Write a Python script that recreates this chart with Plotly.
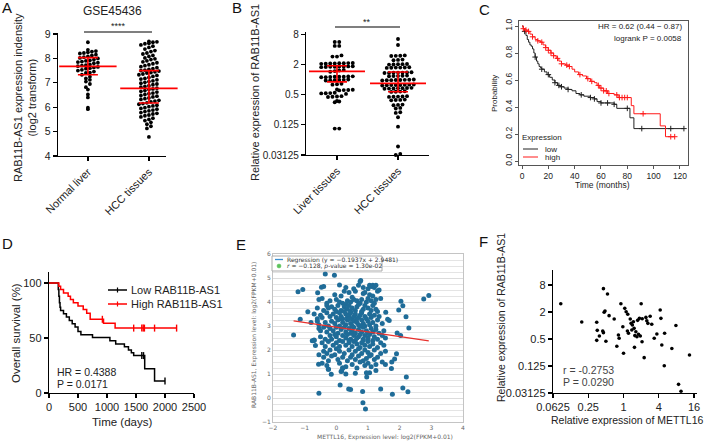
import math
import plotly.graph_objects as go

W, H = 708, 443
FONT = "Arial, Liberation Sans, sans-serif"

# ---------------- DATA ----------------
# Panel A (GSE45436, log2 intensity)
a_categories = ["Normal liver", "HCC tissues"]
a_normal = [8.66, 8.35, 8.3, 8.28, 8.25, 8.22, 8.2, 8.15, 8.12, 8.08, 8.05, 8.02, 8.0,
            7.95, 7.92, 7.9, 7.87, 7.85, 7.82, 7.8, 7.75, 7.72, 7.7, 7.68, 7.65, 7.63, 7.6,
            7.58, 7.53, 7.5, 7.46, 7.42, 7.4, 7.33, 7.25, 7.18, 7.12, 7.05, 6.95, 6.82, 6.72,
            6.52, 6.4, 5.98, 5.92]
a_hcc = [8.7, 8.68, 8.66, 8.62, 8.6, 8.55, 8.5, 8.45, 8.38, 8.32, 8.28, 8.22, 8.18, 8.12,
         8.08, 8.02, 7.98, 7.95, 7.9, 7.86, 7.82, 7.78, 7.74, 7.7, 7.66, 7.62, 7.58, 7.55,
         7.52, 7.5, 7.48, 7.45, 7.42, 7.4, 7.36, 7.33, 7.3, 7.26, 7.22, 7.18, 7.15, 7.12,
         7.08, 7.05, 7.02, 6.98, 6.95, 6.92, 6.88, 6.85, 6.82, 6.78, 6.75, 6.72, 6.68, 6.65,
         6.62, 6.58, 6.55, 6.52, 6.48, 6.45, 6.42, 6.38, 6.35, 6.32, 6.28, 6.25, 6.22, 6.18,
         6.15, 6.12, 6.08, 6.05, 6.02, 5.98, 5.95, 5.92, 5.88, 5.85, 5.82, 5.78, 5.75, 5.72,
         5.68, 5.65, 5.6, 5.55, 5.5, 5.45, 5.38, 5.3, 5.22, 5.13, 4.78]
a_mean = [7.67, 6.77]
a_sd_low = [7.33, 6.17]
a_sd_high = [8.03, 7.50]
a_yticks = [4, 5, 6, 7, 8, 9]

# Panel B (relative expression, stored as log2 values)
b_categories = ["Liver tissues", "HCC tissues"]
b_liver_log2 = [2.49, 2.49, 2.23, 2.23, 1.6, 1.52, 1.52,
                1.1, 1.09, 1.08, 1.08, 1.07, 1.06, 1.05, 1.04,
                0.88, 0.87, 0.86, 0.86, 0.85, 0.84, 0.83, 0.82,
                0.64, 0.6, 0.56, 0.52,
                0.21, 0.2, 0.19, 0.19, 0.18, 0.17, 0.16, 0.15,
                0.0, -0.02, -0.03, -0.04, -0.05, -0.06,
                -0.28, -0.31, -0.34,
                -0.66, -0.68, -0.69, -0.7, -0.72,
                -0.88, -0.9, -0.91, -0.92, -0.95,
                -1.1, -1.12, -1.14, -1.16,
                -1.42, -1.46, -1.5,
                -3.25, -3.25]
b_hcc_log2 = [2.69, 2.29,
              1.6, 1.58, 1.57, 1.56,
              1.32, 1.3, 1.28,
              1.03, 1.02, 1.01, 1.0, 0.99,
              0.81, 0.8, 0.79, 0.79, 0.78, 0.77,
              0.48, 0.47, 0.46, 0.46, 0.45, 0.44, 0.43,
              0.26, 0.25, 0.24, 0.23, 0.22,
              0.0, -0.01, -0.02, -0.03, -0.03, -0.04, -0.05, -0.06,
              -0.33, -0.34, -0.35, -0.36, -0.36, -0.37, -0.38, -0.39,
              -0.55, -0.56, -0.57, -0.58, -0.59, -0.6, -0.61,
              -0.78, -0.8, -0.81, -0.82,
              -1.1, -1.12, -1.13, -1.14, -1.15,
              -1.33, -1.35, -1.36, -1.38,
              -1.66, -1.68, -1.7,
              -1.88, -1.92,
              -2.17, -2.21,
              -2.5, -3.12, -4.44, -4.93, -5.0]
b_mean = [1.46, 0.84]
b_sd_low = [0.90, 0.57]
b_sd_high = [1.89, 1.41]
b_yticks = [0.03125, 0.125, 0.5, 2, 8]
b_yticklabels = ["0.03125", "0.125", "0.5", "2", "8"]

# Panel C (KM, months)
c_low_t = [0, 1, 2, 3, 4, 5, 6, 7, 8, 9, 10, 11, 12, 13, 14, 15, 17, 19, 21, 23, 25, 27, 29,
           32, 35, 38, 41, 44, 47, 52, 55, 57, 60, 70, 72, 82, 85, 123]
c_low_s = [1.0, 0.98, 0.96, 0.93, 0.9, 0.88, 0.86, 0.85, 0.83, 0.8, 0.77, 0.74, 0.72, 0.7,
           0.69, 0.68, 0.66, 0.64, 0.62, 0.6, 0.58, 0.56, 0.55, 0.54, 0.53, 0.52, 0.5, 0.49,
           0.48, 0.47, 0.46, 0.44, 0.43, 0.42, 0.39, 0.32, 0.24, 0.24]
c_high_t = [0, 1, 2, 4, 6, 8, 10, 12, 14, 16, 18, 20, 22, 24, 26, 28, 30, 33, 36, 38, 40, 43,
            46, 49, 52, 55, 57, 59, 62, 65, 70, 73, 83, 85, 105, 109, 116]
c_high_s = [1.0, 0.98, 0.97, 0.96, 0.94, 0.92, 0.9, 0.89, 0.88, 0.86, 0.84, 0.82, 0.8, 0.78,
            0.76, 0.74, 0.72, 0.71, 0.7, 0.68, 0.66, 0.64, 0.63, 0.61, 0.59, 0.58, 0.56, 0.54,
            0.52, 0.5, 0.49, 0.47, 0.41, 0.35, 0.26, 0.18, 0.18]
c_low_censor = [2, 10, 15, 20, 25, 28, 30, 35, 45, 52, 55, 60, 65, 70, 80, 91, 113, 123]
c_high_censor = [1, 3, 5, 8, 12, 15, 18, 20, 22, 24, 27, 30, 34, 36, 44, 50, 53, 58, 60, 62,
                 64, 66, 72, 74, 76, 78, 80, 92, 113, 116]
c_xticks = [0, 20, 40, 60, 80, 100, 120]
c_yticks = [0.0, 0.2, 0.4, 0.6, 0.8, 1.0]

# Panel D (KM, days, %)
d_low_t = [0, 160, 170, 180, 190, 200, 250, 300, 350, 400, 450, 500, 550, 750, 1050, 1150,
           1300, 1370, 1420, 1460, 1650, 1820, 2000]
d_low_s = [100, 94, 88, 82, 78, 75, 72, 69, 66, 63, 60, 56, 53, 50.5, 47.5, 44.5, 42, 39,
           36.5, 34, 22, 11, 11]
d_high_t = [0, 170, 200, 250, 330, 370, 420, 500, 590, 650, 710, 940, 1140, 2200]
d_high_s = [100, 97, 94, 91, 88, 85, 82, 79, 76, 72.5, 67, 63.5, 59, 59]
d_low_censor = [1600, 1630, 2000]
d_high_censor = [920, 1460, 1600, 1625, 1645, 1820, 2200]
d_xticks = [0, 500, 1000, 1500, 2000, 2500]
d_yticks = [0, 50, 100]

# Panel E (METTL16 vs RAB11B-AS1, log2(FPKM+0.01))
e_points = [
    (-1.35, 2.63), (-1.21, 4.43), (-1.06, 4.52), (-1.14, 3.28), (-0.9, 3.59), (-0.76, 2.39),
    (-0.7, 2.42), (-0.66, 2.19), (-0.56, 1.41), (-0.55, 0.2), (-0.47, 4.61), (-0.35, 5.17),
    (-0.06, 5.11), (0.1, 4.71), (0.77, 4.9), (-0.59, 4.39), (-0.55, 4.1), (2.76, 4.13),
    (2.92, 4.27), (2.04, 4.03), (2.1, 3.84), (1.97, 3.67), (2.2, 3.39), (2.29, 2.92),
    (1.92, 2.71), (2.03, 2.6), (1.56, 3.57), (1.62, 3.28), (1.67, 3.23), (1.9, 1.84),
    (1.84, 1.62), (1.75, 1.5), (1.74, 1.23), (1.77, 0.16), (2.1, 0.42), (2.21, 0.87),
    (2.26, 0.26), (0.12, 0.54), (0.39, 0.38), (0.45, 0.35), (0.83, 0.27), (0.84, -0.2),
    (0.92, -0.46), (1.4, 0.37), (0.96, 0.87), (1.05, 1.05), (0.17, 1.13), (-0.16, 0.99),
    (-0.25, 1.2), (0.2, 1.25), (0.6, 1.03),
    (-0.4, 4.65), (0.3, 4.6), (0.55, 4.55), (0.7, 4.7), (0.85, 4.6), (1.0, 4.55), (1.05, 4.7),
    (1.1, 4.65), (1.15, 4.7), (1.2, 4.6), (1.25, 4.7), (0.75, 4.85),
    (-0.05, 4.3), (0.25, 4.45), (0.4, 4.4), (0.6, 4.45), (0.85, 4.35), (0.9, 4.4), (1.05, 4.3),
    (1.3, 4.45), (1.35, 4.5), (0.5, 4.2), (0.15, 4.25), (1.15, 4.25),
    (-0.45, 4.15), (-0.2, 4.05), (0.0, 4.1), (0.1, 4.0), (0.2, 3.95), (0.35, 4.05), (0.45, 4.0),
    (0.55, 4.1), (0.65, 4.05), (0.75, 3.95), (0.8, 4.1), (0.95, 4.0), (1.0, 4.15), (1.1, 4.05),
    (1.2, 3.95), (1.25, 4.1), (1.4, 4.15), (0.3, 3.9), (-0.3, 3.95),
    (-0.3, 3.85), (-0.25, 3.75), (-0.15, 3.8), (-0.05, 3.7), (0.05, 3.85), (0.15, 3.65),
    (0.25, 3.8), (0.35, 3.7), (0.4, 3.85), (0.5, 3.75), (0.6, 3.65), (0.65, 3.8), (0.7, 3.9),
    (0.85, 3.7), (0.9, 3.85), (1.0, 3.75), (1.1, 3.65), (1.15, 3.85), (1.25, 3.7), (1.3, 3.6),
    (-0.6, 3.75), (-0.4, 3.65), (0.0, 3.6), (0.45, 3.6), (0.8, 3.6),
    (-0.7, 3.5), (-0.5, 3.45), (-0.45, 3.35), (-0.3, 3.55), (-0.2, 3.4), (-0.1, 3.5), (0.0, 3.35),
    (0.1, 3.55), (0.15, 3.4), (0.2, 3.3), (0.3, 3.5), (0.35, 3.35), (0.4, 3.45), (0.45, 3.55),
    (0.5, 3.3), (0.55, 3.4), (0.6, 3.5), (0.7, 3.35), (0.75, 3.45), (0.8, 3.55), (0.9, 3.4),
    (0.95, 3.3), (1.05, 3.5), (1.1, 3.35), (1.2, 3.45), (1.35, 3.4), (-0.6, 3.3), (0.25, 3.6),
    (0.65, 3.3),
    (-0.8, 3.15), (-0.6, 3.2), (-0.55, 3.05), (-0.35, 3.15), (-0.25, 3.0), (-0.15, 3.2),
    (-0.05, 3.1), (0.05, 3.25), (0.1, 3.0), (0.2, 3.15), (0.3, 3.05), (0.35, 3.25), (0.45, 3.1),
    (0.5, 3.0), (0.55, 3.2), (0.65, 3.15), (0.7, 3.05), (0.8, 3.25), (0.85, 3.1), (0.9, 3.0),
    (1.0, 3.2), (1.05, 3.05), (1.15, 3.15), (1.25, 3.0), (1.3, 3.25), (1.45, 3.1), (0.4, 3.3),
    (0.15, 3.3),
    (-0.55, 2.9), (-0.5, 2.8), (-0.4, 2.95), (-0.3, 2.75), (-0.2, 2.9), (-0.1, 2.8), (0.0, 2.95),
    (0.05, 2.7), (0.15, 2.85), (0.25, 2.95), (0.3, 2.75), (0.4, 2.9), (0.5, 2.8), (0.55, 2.95),
    (0.6, 2.7), (0.7, 2.85), (0.8, 2.75), (0.85, 2.95), (0.95, 2.8), (1.0, 2.7), (1.1, 2.9),
    (1.15, 2.75), (1.25, 2.85), (1.35, 2.7), (1.5, 2.8), (0.45, 2.7), (0.75, 3.0),
    (-0.7, 2.4), (-0.5, 2.55), (-0.35, 2.45), (-0.2, 2.6), (-0.15, 2.45), (0.0, 2.55), (0.1, 2.4),
    (0.2, 2.6), (0.3, 2.5), (0.35, 2.65), (0.45, 2.45), (0.55, 2.6), (0.6, 2.4), (0.7, 2.55),
    (0.75, 2.65), (0.85, 2.45), (0.9, 2.6), (1.0, 2.5), (1.05, 2.65), (1.15, 2.4), (1.2, 2.55),
    (1.3, 2.45), (1.45, 2.6), (1.55, 2.5), (0.4, 2.4), (0.65, 2.5), (-0.05, 2.65),
    (-0.45, 2.3), (-0.35, 2.15), (-0.25, 2.35), (-0.1, 2.2), (0.0, 2.3), (0.1, 2.15), (0.2, 2.35),
    (0.3, 2.2), (0.4, 2.3), (0.5, 2.15), (0.55, 2.35), (0.65, 2.25), (0.75, 2.1), (0.8, 2.3),
    (0.9, 2.2), (1.0, 2.35), (1.05, 2.15), (1.15, 2.25), (1.3, 2.1), (1.4, 2.3), (1.5, 2.2),
    (0.85, 2.4),
    (-0.55, 1.8), (-0.4, 1.95), (-0.3, 1.85), (-0.2, 2.0), (-0.05, 1.8), (0.1, 1.95), (0.25, 1.85),
    (0.4, 2.0), (0.5, 1.8), (0.6, 1.95), (0.7, 2.05), (0.8, 1.85), (0.9, 2.0), (1.0, 1.9),
    (1.1, 1.8), (1.2, 2.0), (1.4, 1.85), (1.55, 1.95), (0.0, 2.05),
    (-0.4, 1.7), (-0.25, 1.55), (-0.15, 1.75), (0.05, 1.6), (0.2, 1.7), (0.35, 1.55), (0.45, 1.7),
    (0.6, 1.6), (0.7, 1.75), (0.85, 1.55), (0.95, 1.65), (1.05, 1.75), (1.2, 1.6), (1.3, 1.7),
    (1.45, 1.5), (0.75, 1.5),
    (-0.45, 1.45), (-0.3, 1.35), (0.1, 1.45), (0.3, 1.3), (0.5, 1.4), (0.65, 1.25), (0.9, 1.35),
    (1.0, 1.45), (1.1, 1.3), (1.25, 1.4), (1.55, 1.4), (-0.25, 1.2), (0.2, 1.25),
    (0.15, 1.1), (0.3, 1.0), (0.95, 1.05), (1.25, 1.15),
]
e_x = [p[0] for p in e_points]
e_y = [p[1] for p in e_points]
e_slope, e_intercept = -0.1937, 2.9481
e_fit_x = [-1.35, 2.92]
e_xticks = [-2, -1, 0, 1, 2, 3, 4]
e_yticks = [-1, 0, 1, 2, 3, 4, 5, 6]

# Panel F (log2 values of METTL16, RAB11B-AS1)
f_log2_x = [-3.56, -2.37, -1.52, -1.49, -1.52, -1.37, -1.18, -1.14, -1.14, -0.91, -1.05, -1.1,
            -0.82, -1.0, -0.53, -0.38, -0.29, -0.25, -0.15, -0.04, 0.0, 0.07, 0.15, 0.24, 0.22,
            0.28, 0.38, 0.43, 0.47, 0.5, 0.56, 0.6, 0.64, 0.62, 0.7, 0.76, 0.8, 0.85, 0.95, 0.9,
            1.0, 1.05, 1.06, 1.17, 1.27, 1.32, 1.38, 1.51, 1.6, 1.74, 1.89, 2.08, 2.12, 2.17,
            2.33, 2.31, 2.74, 2.97, 3.12, 3.26, 3.74]
f_log2_y = [1.61, 0.26, 0.24, -0.36, -1.1, -0.78, -0.41, -0.53, 2.73, 2.33, 1.07, 0.98, 0.73,
            -1.17, 0.48, -1.54, -0.7, -0.95, 1.61, -0.09, -2.06, 1.27, 1.02, 0.83, -0.41, -0.58,
            0.48, 0.16, -0.33, 0.04, 0.28, -0.21, -0.75, -1.62, -0.46, -0.83, 0.38, -0.65, -0.78,
            0.53, 1.61, -1.2, 0.5, -2.38, 0.6, 0.35, 0.16, 0.68, 0.09, -0.95, -0.63, 1.15, 0.53,
            -1.45, -0.58, -2.98, -1.7, 0.0, -4.36, -4.87, -2.19]
f_ticks = [0.03125, 0.125, 0.5, 2, 8]
f_ticklabels = ["0.03125", "0.125", "0.5", "2", "8"]
f_xticks = [0.0625, 0.25, 1, 4, 16]
f_xticklabels = ["0.0625", "0.25", "1", "4", "16"]


# ---------------- helpers ----------------
def fx(px):
    return px / W


def fy(py):
    return 1 - py / H


def row_swarm(ypx, rowh, sp):
    """Prism-like column scatter: bin into pixel rows, spread each row around the centre."""
    rows = {}
    for i, y in enumerate(ypx):
        rows.setdefault(int(round(y / rowh)), []).append(i)
    offs = [0.0] * len(ypx)
    for idx in rows.values():
        idx.sort(key=lambda i: ypx[i])
        n = len(idx)
        for j, i in enumerate(idx):
            offs[i] = (j - (n - 1) / 2.0) * sp
    return offs


def step_at(ts, ss, t):
    s = ss[0]
    for ti, si in zip(ts, ss):
        if ti <= t:
            s = si
    return s


fig = go.Figure()

# ---------------- Panel A ----------------
A_XPX, A_YPX = 61.0, 24.4
for k, vals in enumerate([a_normal, a_hcc]):
    offs = row_swarm([v * A_YPX for v in vals], 4.2, 4.0)
    fig.add_trace(go.Scatter(x=[k + o / A_XPX for o in offs], y=vals, mode="markers",
                             marker=dict(size=3.8, color="black"), cliponaxis=False,
                             xaxis="x", yaxis="y", showlegend=False))
fig.add_trace(go.Scatter(
    x=[0, 1], y=a_mean, mode="markers", xaxis="x", yaxis="y", showlegend=False, cliponaxis=False,
    marker=dict(symbol="line-ew", size=41, color="red", line=dict(width=1.8, color="red")),
    error_y=dict(type="data", symmetric=False, array=[h - m for h, m in zip(a_sd_high, a_mean)],
                 arrayminus=[m - l for m, l in zip(a_mean, a_sd_low)], color="red",
                 thickness=1.6, width=10)))

# ---------------- Panel B ----------------
B_XPX, B_YPX = 61.0, 15.1
for k, vals in enumerate([b_liver_log2, b_hcc_log2]):
    offs = row_swarm([v * B_YPX for v in vals], 4.0, 4.5)
    fig.add_trace(go.Scatter(x=[k + o / B_XPX for o in offs], y=[2 ** v for v in vals],
                             mode="markers", marker=dict(size=3.9, color="black"),
                             cliponaxis=False, xaxis="x2", yaxis="y2", showlegend=False))
fig.add_trace(go.Scatter(
    x=[0, 1], y=b_mean, mode="markers", xaxis="x2", yaxis="y2", showlegend=False, cliponaxis=False,
    marker=dict(symbol="line-ew", size=40, color="red", line=dict(width=1.8, color="red")),
    error_y=dict(type="data", symmetric=False, array=[h - m for h, m in zip(b_sd_high, b_mean)],
                 arrayminus=[m - l for m, l in zip(b_mean, b_sd_low)], color="red",
                 thickness=1.6, width=10)))

# ---------------- Panel C ----------------
for ts, ss, cens, col in [(c_low_t, c_low_s, c_low_censor, "#222222"),
                          (c_high_t, c_high_s, c_high_censor, "#ff1a1a")]:
    fig.add_trace(go.Scatter(x=ts, y=ss, mode="lines", line=dict(color=col, width=1, shape="hv"),
                             xaxis="x3", yaxis="y3", showlegend=False))
    fig.add_trace(go.Scatter(x=cens, y=[step_at(ts, ss, t) for t in cens], mode="markers",
                             marker=dict(symbol="cross-thin", size=4, line=dict(width=1, color=col)),
                             xaxis="x3", yaxis="y3", showlegend=False))

# ---------------- Panel D ----------------
for ts, ss, cens, col in [(d_low_t, d_low_s, d_low_censor, "black"),
                          (d_high_t, d_high_s, d_high_censor, "#ff0000")]:
    fig.add_trace(go.Scatter(x=ts, y=ss, mode="lines", line=dict(color=col, width=1.5, shape="hv"),
                             xaxis="x4", yaxis="y4", showlegend=False))
    fig.add_trace(go.Scatter(x=cens, y=[step_at(ts, ss, t) for t in cens], mode="markers",
                             marker=dict(symbol="line-ns", size=5, line=dict(width=1.4, color=col)),
                             xaxis="x4", yaxis="y4", showlegend=False))

# ---------------- Panel E ----------------
fig.add_trace(go.Scatter(x=e_x, y=e_y, mode="markers", marker=dict(size=5, color="#1f6c98"),
                         xaxis="x5", yaxis="y5", showlegend=False))
fig.add_trace(go.Scatter(x=e_fit_x, y=[e_slope * v + e_intercept for v in e_fit_x], mode="lines",
                         line=dict(color="#e8302c", width=1.3), xaxis="x5", yaxis="y5",
                         showlegend=False))

# ---------------- Panel F ----------------
fig.add_trace(go.Scatter(x=[2 ** v for v in f_log2_x], y=[2 ** v for v in f_log2_y], mode="markers",
                         marker=dict(size=3.6, color="black"), cliponaxis=False,
                         xaxis="x6", yaxis="y6", showlegend=False))

# ---------------- axes ----------------
prism = dict(showline=True, linecolor="black", linewidth=1.2, ticks="outside", ticklen=4,
             tickwidth=1.2, tickcolor="black", showgrid=False, zeroline=False, automargin=False,
             tickfont=dict(family=FONT, size=10.5, color="#222"))
plain = dict(automargin=False, zeroline=False, showgrid=False)

layout_axes = dict(
    xaxis=dict(prism, domain=[fx(58), fx(166)], range=[-0.49, 1.28], anchor="y",
               tickvals=[0, 1], ticktext=a_categories, tickangle=-45,
               tickfont=dict(family=FONT, size=11, color="#222")),
    yaxis=dict(prism, domain=[fy(156), fy(33)], range=[4, 9.04], anchor="x", tickvals=a_yticks),
    xaxis2=dict(prism, domain=[fx(306), fx(429)], range=[-0.508, 1.508], anchor="y2",
                tickvals=[0, 1], ticktext=b_categories, tickangle=-45,
                tickfont=dict(family=FONT, size=11, color="#222")),
    yaxis2=dict(prism, domain=[fy(155), fy(32)], type="log", anchor="x2",
                range=[math.log10(2 ** -5), math.log10(2 ** 3.15)],
                tickvals=b_yticks, ticktext=b_yticklabels,
                tickfont=dict(family=FONT, size=10, color="#222")),
    xaxis3=dict(plain, domain=[fx(519), fx(688)], range=[-2.28, 126.1], anchor="y3",
                showline=True, mirror=True, linecolor="#555", linewidth=1, ticks="outside",
                ticklen=3, tickcolor="#555", tickvals=c_xticks,
                tickfont=dict(family=FONT, size=8.5, color="#222")),
    yaxis3=dict(plain, domain=[fy(165), fy(21)], range=[-0.0296, 1.037], anchor="x3",
                showline=True, mirror=True, linecolor="#555", linewidth=1, ticks="outside",
                ticklen=3, tickcolor="#555", tickvals=c_yticks,
                ticktext=["%.1f" % v for v in c_yticks], tickangle=-90,
                tickfont=dict(family=FONT, size=8.5, color="#222")),
    xaxis4=dict(prism, domain=[fx(49), fx(194)], range=[0, 2500], anchor="y4", tickvals=d_xticks,
                tickfont=dict(family=FONT, size=11, color="#222")),
    yaxis4=dict(prism, domain=[fy(393), fy(272)], range=[0, 110], anchor="x4", tickvals=d_yticks,
                tickfont=dict(family=FONT, size=11, color="#222")),
    xaxis5=dict(plain, domain=[fx(273), fx(463)], range=[-2, 4], anchor="y5", showline=True,
                mirror=True, linecolor="#c4c4c4", linewidth=1, tickvals=e_xticks, ticks="",
                tickfont=dict(family="DejaVu Sans", size=6, color="#666")),
    yaxis5=dict(domain=[fy(422), fy(254)], range=[-1, 6], anchor="x5", showline=True, mirror=True,
                linecolor="#c4c4c4", linewidth=1, tickvals=e_yticks, showgrid=True,
                gridcolor="#dcdcdc", gridwidth=1, zeroline=False, ticks="", automargin=False,
                minor=dict(dtick=0.25, showgrid=True, gridcolor="#e4e4e4", gridwidth=1),
                tickfont=dict(family="DejaVu Sans", size=6, color="#666")),
    xaxis6=dict(prism, domain=[fx(553), fx(697)], type="log", anchor="y6",
                range=[math.log10(0.0625), math.log10(16) + 0.05],
                tickvals=f_xticks, ticktext=f_xticklabels,
                tickfont=dict(family=FONT, size=11, color="#222")),
    yaxis6=dict(prism, domain=[fy(393), fy(270)], type="log", anchor="x6",
                range=[math.log10(2 ** -5), math.log10(2 ** 4.11)],
                tickvals=f_ticks, ticktext=f_ticklabels,
                tickfont=dict(family=FONT, size=11, color="#222")),
)

# ---------------- annotations / decorations ----------------
ann = []
shapes = []


def text(t, x, y, size=11, xanchor="center", yanchor="middle", angle=0, color="#222",
         family=FONT):
    ann.append(dict(text=t, x=fx(x), y=fy(y), xref="paper", yref="paper", showarrow=False,
                    xanchor=xanchor, yanchor=yanchor, textangle=angle,
                    font=dict(family=family, size=size, color=color)))


def line(x0, y0, x1, y1, color="black", width=1.2):
    shapes.append(dict(type="line", xref="paper", yref="paper", x0=fx(x0), y0=fy(y0),
                       x1=fx(x1), y1=fy(y1), line=dict(color=color, width=width)))


# panel letters
for L, x, y in [("A", 0, 8), ("B", 230, 8), ("C", 477, 9), ("D", 0, 243), ("E", 234, 244),
                ("F", 477, 241)]:
    text(L, x, y, size=15, xanchor="left", color="#111")

# A
text("GSE45436", 112, 11, size=12)
line(84, 32, 152, 32)
text("****", 118, 26, size=9)
text("RAB11B-AS1 expression indensity<br>(log2 transform)", 25, 98, size=11, angle=-90)
# B
line(335, 27, 400, 27)
text("**", 367, 22, size=9)
text("Relative expression of RAB11B-AS1", 255, 93, size=11, angle=-90)
# C
text("HR = 0.62 (0.44 \u2212 0.87)", 684, 27, size=8, xanchor="right")
text("logrank P = 0.0058", 684, 38, size=8, xanchor="right")
text("Probability", 494, 93, size=8, angle=-90)
text("Time (months)", 602, 185, size=8.5)
text("Expression", 520, 137, size=8, xanchor="left")
line(523, 149, 538, 149, color="#222", width=1)
text("low", 543, 149, size=8, xanchor="left")
line(523, 157, 538, 157, color="#ff1a1a", width=1)
text("high", 543, 157, size=8, xanchor="left")
# D
text("Overall survival (%)", 16, 333, size=11.5, angle=-90)
text("Time (days)", 122, 422, size=11.5)
line(108, 290, 127, 290, color="black", width=1.5)
line(117.5, 287.5, 117.5, 292.5, color="black", width=1.2)
text("Low RAB11B-AS1", 129, 290, size=11, xanchor="left")
line(108, 304, 127, 304, color="#ff0000", width=1.5)
line(117.5, 301.5, 117.5, 306.5, color="#ff0000", width=1.2)
text("High RAB11B-AS1", 129, 304, size=11, xanchor="left")
text("HR = 0.4388", 55, 372, size=10.5, xanchor="left")
text("P = 0.0171", 55, 384, size=10.5, xanchor="left")
# E
shapes.append(dict(type="rect", xref="paper", yref="paper", x0=fx(272), y0=fy(271), x1=fx(382),
                   y1=fy(256), line=dict(color="#aaaaaa", width=1), fillcolor="white"))
line(275, 259.5, 283, 259.5, color="#3a8fd0", width=1.3)
shapes.append(dict(type="circle", xref="paper", yref="paper", x0=fx(277), y0=fy(268),
                   x1=fx(281), y1=fy(264), line=dict(color="#5cc35c", width=0.5),
                   fillcolor="#5cc35c"))
text("Regression (y = \u22120.1937x + 2.9481)", 285, 259.5, size=6, xanchor="left",
     family="DejaVu Sans", color="#333")
text("<i>r</i> = \u22120.128, <i>p</i>-value = 1.30e-02", 285, 266, size=6, xanchor="left",
     family="DejaVu Sans", color="#333")
text("METTL16, Expression level: log2(FPKM+0.01)", 385, 436.5, size=6, family="DejaVu Sans",
     color="#666")
text("RAB11B-AS1, Expression level: log2(FPKM+0.01)", 254, 335, size=6, angle=-90,
     family="DejaVu Sans", color="#666")
# F
text("r = -0.2753", 561, 370, size=10.5, xanchor="left", color="#444")
text("P = 0.0290", 561, 382, size=10.5, xanchor="left", color="#444")
text("Relative expression of METTL16", 627, 420, size=10.5)
text("Relative expression of RAB11B-AS1", 501, 318, size=10.5, angle=-90)

fig.update_layout(
    width=W, height=H, margin=dict(l=0, r=0, t=0, b=0, autoexpand=False), paper_bgcolor="white",
    plot_bgcolor="white", showlegend=False, annotations=ann, shapes=shapes,
    font=dict(family=FONT), **layout_axes)

fig.write_html("out.html", config={"displayModeBar": False, "staticPlot": True},
               post_script="document.body.style.margin='0px';document.body.style.overflow='hidden';")
